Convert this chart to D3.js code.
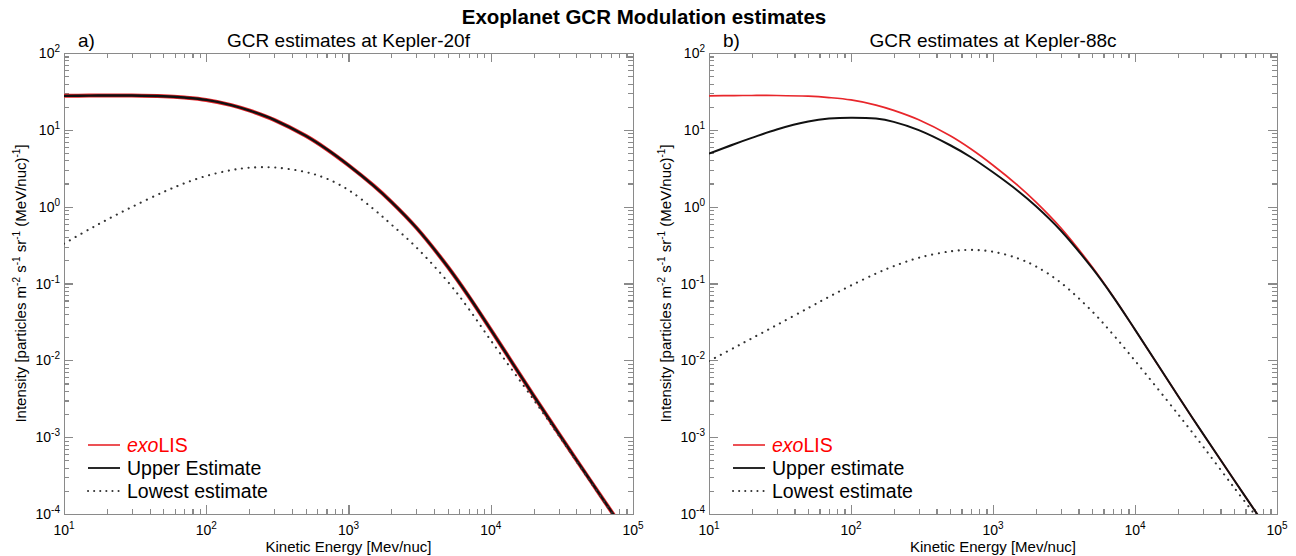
<!DOCTYPE html>
<meta charset="utf-8">
<style>
    body { margin: 0; background: #fff; }
    text { font-family: "Liberation Sans", Arial, Helvetica, sans-serif; fill: #000; }
    .axis path, .axis line { stroke: #8a8a8a; stroke-width: 1.1; shape-rendering: crispEdges; }
</style>
<svg width="1296" height="556"></svg>
<script src="https://d3js.org/d3.v7.min.js"></script>
<script>

    // kinetic energy grid [MeV/nuc]
    var energy = [10, 15, 20, 30, 50, 70, 100, 150, 200, 300, 500, 700, 1000, 1500, 2000, 3000, 5000, 7000, 10000, 20000, 30000, 50000, 75000];

    // exoLIS (same in both panels)
    var exoLIS = [27.7, 27.9, 28.0, 28.0, 27.4, 26.3, 24.5, 21.0, 17.9, 13.5, 8.36, 5.62, 3.46, 1.88, 1.155, 0.531, 0.164, 0.0682, 0.0251, 0.00348, 0.00112, 2.75e-4, 9.1e-5];

    // a) Kepler-20f
    var upper20f = [27.7, 27.9, 28.0, 28.0, 27.4, 26.3, 24.5, 21.0, 17.9, 13.5, 8.36, 5.62, 3.46, 1.88, 1.155, 0.531, 0.164, 0.0682, 0.0251, 0.00348, 0.00112, 2.75e-4, 9.1e-5];
    var lowest20f = [0.33, 0.506, 0.675, 0.991, 1.55, 2.01, 2.51, 2.99, 3.21, 3.24, 2.82, 2.32, 1.65, 0.931, 0.587, 0.295, 0.105, 0.0468, 0.0182, 0.00309, 0.00106, 2.66e-4, 8.9e-5];

    // b) Kepler-88c
    var upper88c = [4.9, 6.5, 7.85, 10.1, 12.8, 14.0, 14.4, 14.0, 12.7, 9.9, 6.3, 4.4, 2.8, 1.6, 1.02, 0.49, 0.158, 0.0675, 0.0251, 0.00348, 0.00112, 2.75e-4, 9.1e-5];
    var lowest88c = [0.0098, 0.01455, 0.0193, 0.0288, 0.048, 0.0671, 0.0942, 0.1346, 0.168, 0.216, 0.262, 0.274, 0.259, 0.212, 0.1675, 0.1028, 0.0432, 0.0217, 0.00989, 0.00201, 7.66e-4, 2.19e-4, 8.28e-5];

    var xTicks = [10, 100, 1000, 10000, 100000];
    var yTicks = [1e-4, 1e-3, 1e-2, 1e-1, 1, 10, 100];

    var svg = d3.select("svg");
    var plotTop = 53, plotBottom = 514;

    function minors(lo, hi) {
        var out = [];
        for (var e = lo; e < hi; e++) {
            for (var k = 2; k <= 9; k++) out.push(k * Math.pow(10, e));
        }
        return out;
    }

    function supText(sel, base, exp, size) {
        sel.append("tspan").text(base);
        sel.append("tspan").attr("dy", -6).attr("font-size", size).text(exp);
    }

    function drawPanel(p) {
        var x = d3.scaleLog().domain([10, 1e5]).range([p.left, p.right]);
        var y = d3.scaleLog().domain([1e-4, 1e2]).range([plotBottom, plotTop]);
        var g = svg.append("g");

        function ax(fn, scale, vals, size, tr) {
            return g.append("g").attr("class", "axis").attr("transform", tr)
                .call(fn(scale).tickValues(vals).tickSizeInner(-size).tickSizeOuter(0).tickFormat(""));
        }
        // major + minor ticks on all four sides, pointing inward
        ax(d3.axisBottom, x, xTicks, 9, "translate(0," + plotBottom + ")");
        ax(d3.axisBottom, x, minors(1, 5), 5, "translate(0," + plotBottom + ")").select(".domain").remove();
        ax(d3.axisTop, x, xTicks, 9, "translate(0," + plotTop + ")");
        ax(d3.axisTop, x, minors(1, 5), 5, "translate(0," + plotTop + ")").select(".domain").remove();
        ax(d3.axisLeft, y, yTicks, 9, "translate(" + p.left + ",0)");
        ax(d3.axisLeft, y, minors(-4, 2), 5, "translate(" + p.left + ",0)").select(".domain").remove();
        ax(d3.axisRight, y, yTicks, 9, "translate(" + p.right + ",0)");
        ax(d3.axisRight, y, minors(-4, 2), 5, "translate(" + p.right + ",0)").select(".domain").remove();

        // tick labels
        g.selectAll(".xlab").data(xTicks).enter().append("text")
            .attr("x", function(d) { return x(d); })
            .attr("y", plotBottom + 21)
            .attr("text-anchor", "middle")
            .attr("font-size", 14)
            .each(function(d) { supText(d3.select(this), "10", Math.round(Math.log10(d)), 10); });

        g.selectAll(".ylab").data(yTicks).enter().append("text")
            .attr("x", p.left - 4)
            .attr("y", function(d) { return y(d) + 5; })
            .attr("text-anchor", "end")
            .attr("font-size", 14)
            .each(function(d) { supText(d3.select(this), "10", Math.round(Math.log10(d)), 10); });

        // axis titles
        g.append("text")
            .attr("x", (p.left + p.right) / 2)
            .attr("y", 552)
            .attr("text-anchor", "middle")
            .attr("font-size", 15)
            .text("Kinetic Energy [Mev/nuc]");

        var yt = g.append("text")
            .attr("transform", "translate(" + (p.left - 38) + "," + ((plotTop + plotBottom) / 2) + ") rotate(-90)")
            .attr("text-anchor", "middle")
            .attr("font-size", 15);
        yt.append("tspan").text("Intensity [particles m");
        yt.append("tspan").attr("dy", -6).attr("font-size", 10).text("-2");
        yt.append("tspan").attr("dy", 6).text(" s");
        yt.append("tspan").attr("dy", -6).attr("font-size", 10).text("-1");
        yt.append("tspan").attr("dy", 6).text(" sr");
        yt.append("tspan").attr("dy", -6).attr("font-size", 10).text("-1");
        yt.append("tspan").attr("dy", 6).text(" (MeV/nuc)");
        yt.append("tspan").attr("dy", -6).attr("font-size", 10).text("-1");
        yt.append("tspan").attr("dy", 6).text("]");

        // panel titles
        g.append("text")
            .attr("x", (p.left + p.right) / 2)
            .attr("y", 47)
            .attr("text-anchor", "middle")
            .attr("font-size", 19)
            .text(p.title);
        g.append("text")
            .attr("x", p.left + 14)
            .attr("y", 47)
            .attr("font-size", 19)
            .text(p.tag);

        // curves
        svg.append("clipPath").attr("id", "clip-" + p.tag[0])
            .append("rect")
            .attr("x", p.left).attr("y", plotTop)
            .attr("width", p.right - p.left).attr("height", plotBottom - plotTop);

        var line = d3.line()
            .x(function(d) { return x(d[0]); })
            .y(function(d) { return y(d[1]); })
            .curve(d3.curveCatmullRom.alpha(0.5));

        var curves = g.append("g").attr("clip-path", "url(#clip-" + p.tag[0] + ")");

        curves.append("path")
            .attr("d", line(d3.zip(energy, p.lis)))
            .attr("fill", "none").attr("stroke", "#e8262b").attr("stroke-width", p.lisWidth);
        curves.append("path")
            .attr("d", line(d3.zip(energy, p.upper)))
            .attr("fill", "none").attr("stroke", "#111").attr("stroke-width", p.upperWidth);
        curves.append("path")
            .attr("d", line(d3.zip(energy, p.lowest)))
            .attr("fill", "none").attr("stroke", "#333").attr("stroke-width", 2.1)
            .attr("stroke-linecap", "round").attr("stroke-dasharray", "0.1,6.6");

        // legend
        var lg = g.append("g").attr("transform", "translate(" + (p.left + 24) + ",445)");
        var rows = [
            {label: p.upperLabel, color: "#111", dash: null},
            {label: "Lowest estimate", color: "#333", dash: "0.1,6"}
        ];
        lg.append("line").attr("x1", 0).attr("x2", 32).attr("y1", 0).attr("y2", 0)
            .attr("stroke", "#e8262b").attr("stroke-width", 1.6);
        var t0 = lg.append("text").attr("x", 39).attr("y", 7).attr("font-size", 19.5).style("fill", "#ff0000");
        t0.append("tspan").attr("font-style", "italic").style("fill", "#ff0000").text("exo");
        t0.append("tspan").style("fill", "#ff0000").text("LIS");

        rows.forEach(function(r, i) {
            var yy = 23 * (i + 1);
            var l = lg.append("line").attr("x1", 0).attr("x2", 32).attr("y1", yy).attr("y2", yy)
                .attr("stroke", r.color).attr("stroke-width", r.dash ? 2 : 1.8);
            if (r.dash) l.attr("stroke-dasharray", r.dash).attr("stroke-linecap", "round");
            lg.append("text").attr("x", 39).attr("y", yy + 7).attr("font-size", 19.5).text(r.label);
        });
    }

    svg.append("text")
        .attr("x", 644)
        .attr("y", 24)
        .attr("text-anchor", "middle")
        .attr("font-size", 20.5)
        .attr("font-weight", "bold")
        .text("Exoplanet GCR Modulation estimates");

    drawPanel({left: 64, right: 633, tag: "a)", title: "GCR estimates at Kepler-20f",
        lis: exoLIS, upper: upper20f, lowest: lowest20f, upperLabel: "Upper Estimate",
        lisWidth: 4, upperWidth: 2.4});
    drawPanel({left: 709, right: 1277, tag: "b)", title: "GCR estimates at Kepler-88c",
        lis: exoLIS, upper: upper88c, lowest: lowest88c, upperLabel: "Upper estimate",
        lisWidth: 1.7, upperWidth: 2});

</script>
